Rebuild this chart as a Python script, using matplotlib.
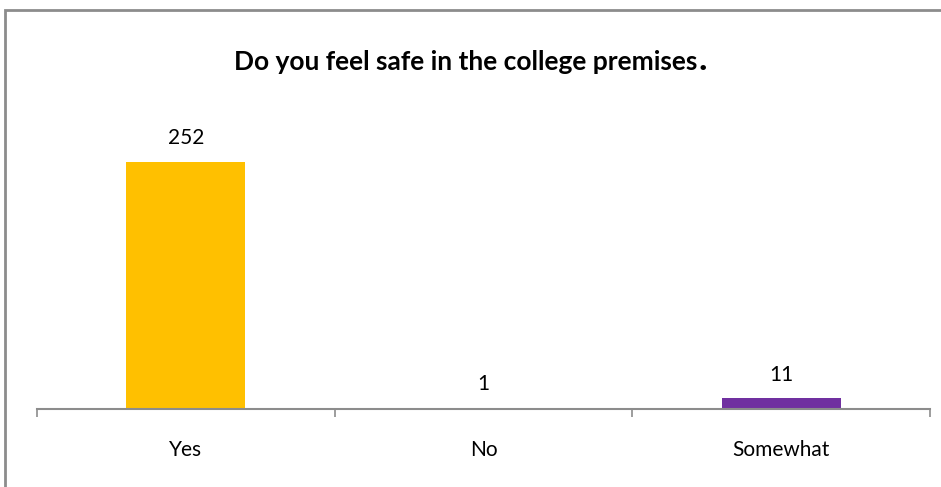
import matplotlib.pyplot as plt
from matplotlib.patches import Rectangle
from matplotlib.transforms import IdentityTransform

categories = ['Yes', 'No', 'Somewhat']
counts = [252, 1, 11]
colors = ['#FFC000', '#A5A5A5', '#7030A0']
title = 'Do you feel safe in the college premises'

W, H = 941, 487
fig = plt.figure(figsize=(W / 100, H / 100), dpi=100)
plt.rcParams['font.family'] = ['Lato', 'DejaVu Sans']

# outer chart border (right/bottom edges run off the picture)
fig.patches.append(Rectangle((5 / W, -0.05), 1.1, 1 - 10 / H + 0.05,
                             transform=fig.transFigure, fill=False,
                             edgecolor='#8C8C8C', linewidth=2))

# plot area in pixels
left, right, bottom, top = 37, 930, 409, 100
ax = fig.add_axes([left / W, 1 - bottom / H, (right - left) / W, (bottom - top) / H])
ax.set_xlim(-0.5, 2.5)
ax.set_ylim(0, (bottom - top) / (247 / 252))

bars = ax.bar(range(len(categories)), counts, width=0.4, color=colors, zorder=2)
for b, v in zip(bars, counts):
    ax.annotate(str(v), (b.get_x() + b.get_width() / 2, v), xytext=(0, 17),
                textcoords='offset points', ha='center', va='center', fontsize=15)

ax.set_xticks(range(len(categories)))
ax.set_xticklabels(categories, fontsize=15)
ax.set_xticks([-0.5, 0.5, 1.5, 2.5], minor=True)
ax.tick_params(axis='x', which='major', length=0, pad=22)
ax.tick_params(axis='x', which='minor', length=6, width=1.2, color='#8C8C8C')
ax.set_yticks([])
for s in ['left', 'right', 'top']:
    ax.spines[s].set_visible(False)
ax.spines['bottom'].set_color('#8C8C8C')
ax.spines['bottom'].set_linewidth(1.5)
ax.spines['bottom'].set_zorder(3)

# title, with a larger full stop sitting on the same baseline
base_y = 1 - 70 / H
t = fig.text(466 / W, base_y, title, ha='center', va='baseline',
             fontsize=19, fontweight='bold')
fig.canvas.draw()
bb = t.get_window_extent()
fig.text(bb.x1 + 1, base_y * H, '.', fontsize=26, fontweight='bold',
         ha='left', va='baseline', transform=IdentityTransform())

fig.savefig('out.png', dpi=100)
